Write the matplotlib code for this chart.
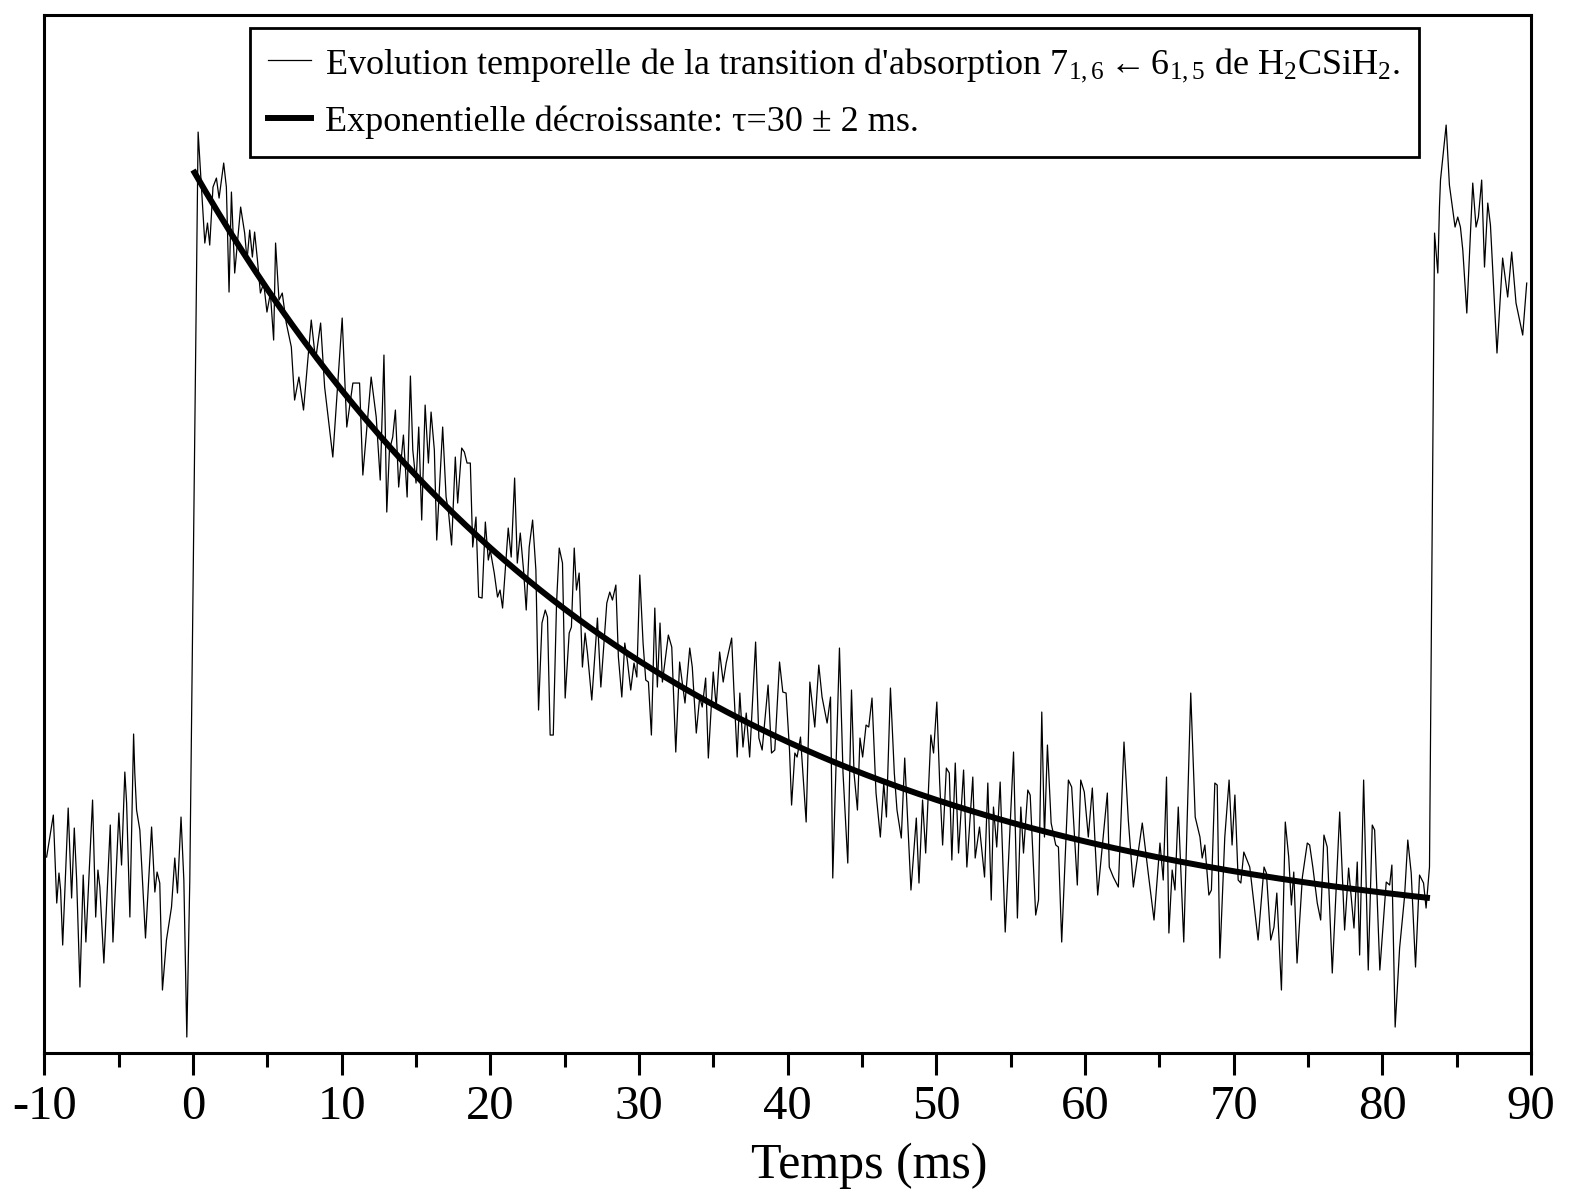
import matplotlib
matplotlib.use("Agg")
import matplotlib.pyplot as plt
import numpy as np
from matplotlib.lines import Line2D

plt.rcParams['font.family'] = ['Liberation Serif', 'DejaVu Serif']
plt.rcParams['mathtext.fontset'] = 'custom'
plt.rcParams['mathtext.rm'] = 'Liberation Serif'
plt.rcParams['mathtext.it'] = 'Liberation Serif:italic'
plt.rcParams['mathtext.bf'] = 'Liberation Serif:bold'

# ---- data (time in ms, signal in arbitrary units) ----
time_ms = [
    -9.85, -9.40, -9.17, -9.02, -8.91, -8.77, -8.40, -8.17, -7.99, -7.83,
    -7.61, -7.39, -7.21, -6.76, -6.55, -6.40, -6.27, -6.00, -5.57, -5.39,
    -4.99, -4.81, -4.59, -4.47, -4.25, -4.00, -3.92, -3.80, -3.58, -3.20,
    -2.79, -2.57, -2.42, -2.24, -2.06, -1.79, -1.45, -1.23, -1.05, -0.81,
    -0.62, -0.42, -0.22,
    0.34, 0.56, 0.79, 0.97, 1.12, 1.34, 1.57, 1.75, 2.06, 2.24,
    2.42, 2.58, 2.80, 3.20, 3.47, 3.63, 3.81, 3.99, 4.14, 4.33,
    4.53, 4.75, 4.97, 5.20, 5.42, 5.55, 5.78, 6.00, 6.27, 6.61,
    6.83, 7.12, 7.43, 7.95, 8.24, 8.58, 8.85, 9.40, 10.03, 10.34,
    10.75, 11.20, 11.42, 11.98, 12.32, 12.59, 12.84,
    13.03, 13.21, 13.43, 13.61, 13.83, 14.15, 14.40, 14.62, 14.78, 15.00,
    15.18, 15.38, 15.61, 15.83, 16.01, 16.23, 16.39, 16.79, 17.02, 17.19,
    17.39, 17.64, 17.80, 18.07, 18.25, 18.43, 18.65, 18.81, 19.03, 19.21,
    19.44, 19.66, 19.86, 19.99, 20.26, 20.48, 20.65, 20.82, 21.20, 21.40,
    21.63, 21.81, 22.01, 22.23, 22.41, 22.61, 22.84, 23.06,
    23.24, 23.47, 23.69, 23.84, 24.02, 24.23, 24.45, 24.63, 24.85, 25.03,
    25.30, 25.45, 25.64, 25.79, 25.97, 26.19, 26.37, 26.53, 26.82, 27.20,
    27.43, 27.83, 28.03, 28.21, 28.44, 28.61, 28.84, 29.04, 29.21, 29.44,
    29.66, 29.85, 30.05, 30.27, 30.45, 30.63, 30.83, 31.06, 31.23, 31.41,
    31.57, 31.97, 32.20, 32.47, 32.73, 32.91, 33.09, 33.41, 33.58, 33.85,
    34.08, 34.25, 34.48, 34.66, 34.99, 35.19, 35.42, 35.66, 35.86, 36.23,
    36.38, 36.60, 36.78, 36.99, 37.21, 37.44, 37.84, 38.06, 38.28, 38.68,
    38.91, 39.13, 39.45, 39.67, 39.89, 40.12,
    40.26, 40.48, 40.63, 40.86, 41.24, 41.49, 41.82, 42.09, 42.31, 42.65,
    42.88, 43.03, 43.25, 43.48, 43.72, 44.04, 44.29, 44.46, 44.69, 44.86,
    45.04, 45.27, 45.45, 45.67, 45.94, 46.23, 46.46, 46.64, 46.91, 47.17,
    47.35, 47.64, 47.87, 48.29, 48.65, 48.83, 49.07, 49.28, 49.63, 49.81,
    50.03, 50.22, 50.42, 50.67, 50.87, 51.04, 51.27, 51.49, 51.83, 52.05,
    52.45, 52.61, 52.90, 53.24, 53.46, 53.69, 53.84, 54.06,
    54.29, 54.63, 55.19, 55.45, 55.68, 55.86, 56.15, 56.31, 56.68, 56.87,
    57.09, 57.27, 57.47, 57.72, 58.03, 58.21, 58.43, 58.88, 59.10, 59.48,
    59.71, 59.95, 60.22, 60.49, 60.85, 61.50, 61.63, 61.90, 62.24, 62.62,
    62.91, 63.25, 63.85, 64.25, 64.64, 65.04, 65.26, 65.48, 65.64, 65.86,
    66.05, 66.27, 66.64, 67.11, 67.41,
    67.73, 67.88, 68.06, 68.33, 68.50, 68.73, 68.89, 69.07, 69.40, 69.69,
    69.89, 70.08, 70.30, 70.48, 70.68, 71.08, 71.64, 72.04, 72.20, 72.49,
    72.71, 72.90, 73.21, 73.47, 73.70, 73.88, 74.04, 74.26, 74.62, 74.95,
    75.11, 75.33, 75.62, 75.85, 76.07, 76.29, 76.63, 77.13, 77.46, 77.73,
    78.09, 78.31, 78.47, 78.74, 79.05, 79.32, 79.48, 79.83, 80.26, 80.49,
    80.64, 80.86, 81.16, 81.49, 81.71, 81.94, 82.23, 82.50, 82.77, 82.94,
    83.17,
    83.51, 83.73, 83.84, 83.91, 84.29, 84.51, 84.89, 85.07, 85.25, 85.41,
    85.68, 86.08, 86.30, 86.46, 86.68, 86.87, 87.09, 87.27, 87.71, 88.09,
    88.43, 88.70, 88.99, 89.44, 89.71,
]
signal = [
    19.6, 23.8, 15.0, 18.0, 16.3, 10.8, 24.5, 15.5, 22.5, 17.3,
    6.6, 17.8, 11.1, 25.3, 13.6, 18.3, 16.6, 9.0, 22.8, 11.1,
    24.0, 18.8, 28.1, 25.0, 13.6, 31.9, 28.0, 24.3, 22.3, 11.5,
    22.6, 16.1, 18.1, 17.0, 6.3, 11.3, 14.6, 19.5, 16.0, 23.6,
    17.3, 1.6, 17.3,
    92.1, 86.6, 81.0, 83.0, 80.8, 86.6, 87.5, 85.5, 89.0, 86.6,
    76.1, 86.1, 78.0, 84.6, 82.0, 79.3, 82.3, 79.6, 82.1, 79.3,
    76.0, 77.0, 74.1, 76.0, 71.3, 81.0, 75.3, 76.0, 73.0, 70.6,
    65.3, 67.6, 64.3, 73.3, 69.3, 73.0, 66.6, 59.6, 73.5, 62.6,
    67.0, 67.0, 57.8, 67.6, 63.6, 57.3, 69.8,
    54.1, 60.3, 61.6, 64.3, 56.6, 61.8, 55.6, 67.7, 60.3, 57.0,
    62.6, 53.3, 64.8, 59.0, 64.1, 60.3, 51.3, 62.6, 55.6, 54.0,
    50.8, 59.6, 55.0, 60.5, 60.1, 59.0, 59.0, 50.6, 53.6, 45.6,
    45.5, 53.1, 49.3, 50.3, 48.0, 45.6, 46.3, 44.5, 52.5, 49.6,
    57.5, 49.0, 52.0, 48.3, 44.3, 50.6, 53.3, 48.3,
    34.3, 43.0, 44.3, 43.6, 31.8, 31.8, 45.0, 50.5, 49.0, 35.5,
    42.0, 42.6, 50.5, 46.3, 48.0, 38.6, 42.0, 40.0, 35.3, 43.5,
    36.6, 45.0, 46.1, 45.3, 46.8, 39.6, 35.6, 41.0, 39.3, 36.3,
    39.0, 37.6, 47.8, 41.0, 37.3, 37.1, 31.8, 44.5, 36.6, 43.0,
    37.1, 41.8, 40.6, 30.1, 39.1, 37.0, 35.0, 40.5, 38.6, 32.0,
    35.6, 34.6, 37.5, 29.5, 38.1, 34.6, 40.1, 37.1, 39.0, 41.5,
    36.3, 29.6, 36.0, 30.6, 34.0, 29.6, 41.1, 31.5, 30.3, 36.8,
    30.0, 30.3, 39.1, 36.1, 36.0, 30.3,
    24.8, 30.0, 29.6, 31.6, 23.1, 37.1, 32.6, 38.8, 35.6, 33.0,
    35.6, 17.5, 28.6, 40.5, 28.0, 19.0, 36.3, 28.0, 24.3, 31.5,
    29.6, 32.8, 32.6, 35.5, 26.0, 21.6, 27.0, 23.6, 36.5, 28.0,
    24.3, 21.5, 29.5, 16.3, 23.5, 17.0, 25.3, 20.0, 31.8, 30.0,
    35.1, 27.1, 20.8, 28.5, 28.0, 19.3, 29.0, 20.0, 28.3, 18.6,
    27.6, 19.5, 22.6, 17.6, 27.0, 15.3, 24.6, 20.6,
    27.1, 12.1, 30.1, 13.5, 24.6, 20.0, 26.3, 25.8, 13.8, 15.3,
    34.1, 21.6, 30.8, 23.0, 20.8, 20.6, 11.1, 27.3, 26.6, 16.8,
    27.3, 26.1, 21.6, 26.5, 15.8, 26.0, 18.6, 17.6, 16.6, 31.1,
    23.3, 16.6, 23.0, 18.0, 13.3, 21.0, 17.3, 27.6, 12.0, 18.3,
    16.3, 24.6, 11.1, 36.0, 23.6,
    21.6, 19.5, 20.8, 15.8, 16.3, 27.0, 26.8, 9.5, 21.6, 27.3,
    20.8, 25.8, 17.3, 17.0, 20.1, 18.6, 11.3, 18.6, 18.0, 11.3,
    12.6, 16.0, 6.3, 23.1, 19.6, 14.8, 18.1, 9.0, 17.6, 21.0,
    20.8, 18.5, 15.0, 13.3, 21.8, 20.6, 8.0, 24.1, 12.3, 18.5,
    12.5, 19.1, 9.8, 27.3, 8.3, 22.8, 22.3, 8.3, 17.1, 16.8,
    18.8, 2.6, 10.5, 15.6, 21.3, 18.0, 8.6, 17.8, 17.0, 14.5,
    18.6,
    82.0, 78.0, 84.6, 87.3, 92.8, 86.8, 82.6, 83.6, 82.6, 80.3,
    74.0, 87.0, 82.6, 83.6, 87.3, 78.6, 85.0, 82.8, 70.0, 79.5,
    75.6, 80.1, 75.0, 71.8, 77.0,
]

# exponential fit parameters (legend: tau = 30 +/- 2 ms)
fit_amplitude = 77.65
fit_offset = 10.65
fit_tau = 30.0
fit_start, fit_end = 0.0, 83.2

xtick_values = [-10, 0, 10, 20, 30, 40, 50, 60, 70, 80, 90]
xtick_labels = ["-10", "0", "10", "20", "30", "40", "50", "60", "70", "80", "90"]

label_data = ("Evolution temporelle de la transition d'absorption "
              r"$7_{1,6}\leftarrow 6_{1,5}$ de H$_2$CSiH$_2$.")
label_fit = "Exponentielle décroissante: τ=30 ± 2 ms."

# ---- figure ----
fig = plt.figure(figsize=(15.69, 11.95), dpi=100)
ax = fig.add_axes([0.0283, 0.1188, 0.9475, 0.8686])

ax.plot(time_ms, signal, color='black', lw=0.9)
t_fit = np.linspace(fit_start, fit_end, 400)
y_fit = fit_amplitude * np.exp(-t_fit / fit_tau) + fit_offset
ax.plot(t_fit, y_fit, color='black', lw=4.3, solid_capstyle='butt')

ax.set_xlim(-10, 90)
ax.set_ylim(0, 103.8)
ax.set_yticks([])
ax.set_xticks(xtick_values)
ax.set_xticklabels(xtick_labels)
ax.set_xticks(np.arange(-5, 90, 10), minor=True)
ax.tick_params(axis='x', which='major', direction='out', length=16, width=2.2,
               labelsize=35, pad=7)
ax.tick_params(axis='x', which='minor', direction='out', length=10, width=2.2)
for s in ax.spines.values():
    s.set_linewidth(2.2)

ax.set_xlabel("Temps (ms)", fontsize=36)
ax.xaxis.set_label_coords(0.555, -0.086)

handles = [Line2D([], [], color='black', lw=0.9),
           Line2D([], [], color='black', lw=4.3)]
leg = ax.legend(handles, [label_data, label_fit], loc='upper left',
                bbox_to_anchor=(0.138, 0.988), fontsize=26, frameon=True,
                fancybox=False, edgecolor='black', framealpha=1,
                handlelength=1.2, handletextpad=0.4, borderpad=0.5,
                labelspacing=0.6, borderaxespad=0)
leg.get_frame().set_linewidth(2.0)

fig.savefig("out.png", dpi=100)
